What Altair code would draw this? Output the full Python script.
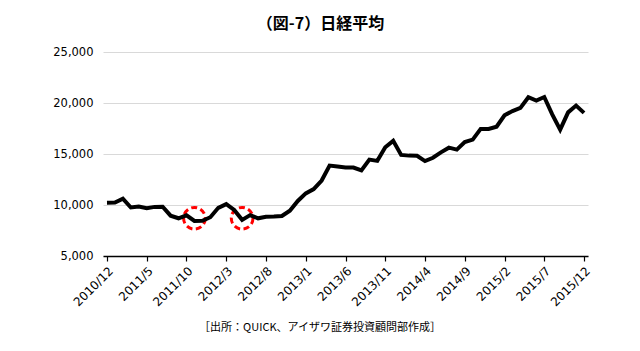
import altair as alt
import pandas as pd

months = [
    "2010/12", "2011/1", "2011/2", "2011/3", "2011/4", "2011/5", "2011/6", "2011/7", "2011/8", "2011/9",
    "2011/10", "2011/11", "2011/12", "2012/1", "2012/2", "2012/3", "2012/4", "2012/5", "2012/6", "2012/7",
    "2012/8", "2012/9", "2012/10", "2012/11", "2012/12", "2013/1", "2013/2", "2013/3", "2013/4", "2013/5",
    "2013/6", "2013/7", "2013/8", "2013/9", "2013/10", "2013/11", "2013/12", "2014/1", "2014/2", "2014/3",
    "2014/4", "2014/5", "2014/6", "2014/7", "2014/8", "2014/9", "2014/10", "2014/11", "2014/12", "2015/1",
    "2015/2", "2015/3", "2015/4", "2015/5", "2015/6", "2015/7", "2015/8", "2015/9", "2015/10", "2015/11",
    "2015/12",
]
nikkei = [
    10229, 10238, 10624, 9755, 9850, 9694, 9816, 9833, 8955, 8700,
    8988, 8435, 8455, 8803, 9723, 10084, 9521, 8543, 9007, 8695,
    8840, 8870, 8928, 9446, 10395, 11139, 11559, 12398, 13861, 13775,
    13677, 13668, 13389, 14456, 14328, 15662, 16291, 14915, 14841, 14828,
    14304, 14632, 15162, 15621, 15425, 16174, 16414, 17460, 17451, 17674,
    18798, 19207, 19520, 20563, 20236, 20585, 18890, 17388, 19083, 19747,
    19034,
]
highlight_months = ["2011/11", "2012/5"]
highlight_centers = [8700, 8700]
title_text = "（図-7）日経平均"
source_text = "［出所：QUICK、アイザワ証券投資顧問部作成］"

df = pd.DataFrame({"i": list(range(len(months))), "month": months, "value": nikkei})
hl = pd.DataFrame({
    "i": [months.index(m) for m in highlight_months],
    "value": highlight_centers,
})

tick_vals = list(range(0, len(months), 5))
label_expr = "{" + ",".join(f"'{i}':'{months[i]}'" for i in tick_vals) + "}[datum.value]"

font = "DejaVu Sans"

x_enc = alt.X(
    "i:Q",
    scale=alt.Scale(domain=[-0.5, len(months) - 0.5], nice=False, zero=False),
    axis=alt.Axis(
        values=tick_vals,
        labelExpr=label_expr,
        labelAngle=-45,
        labelAlign="right",
        labelBaseline="top",
        labelFont=font,
        labelFontSize=12,
        labelColor="#000000",
        labelPadding=4,
        labelOverlap=False,
        labelFlush=False,
        grid=False,
        domainColor="#000000",
        domainWidth=1.5,
        tickColor="#000000",
        tickSize=5,
        tickWidth=1.2,
        title=None,
    ),
)
y_enc = alt.Y(
    "value:Q",
    scale=alt.Scale(domain=[5000, 25000], nice=False, zero=False),
    axis=alt.Axis(
        values=[5000, 10000, 15000, 20000, 25000],
        format=",.0f",
        labelFont=font,
        labelFontSize=11.5,
        labelColor="#000000",
        labelPadding=10,
        domain=False,
        ticks=False,
        gridColor="#d9d9d9",
        gridWidth=1,
        title=None,
    ),
)

line = alt.Chart(df).mark_line(color="#000000", strokeWidth=4, strokeJoin="miter").encode(x=x_enc, y=y_enc)

circles = alt.Chart(hl).mark_point(
    shape="circle", size=470, filled=False, color="#ff0000", opacity=1,
    strokeWidth=3, strokeDash=[6, 3.5]
).encode(x=x_enc, y=y_enc)

source = alt.Chart(pd.DataFrame({"t": [source_text]})).mark_text(
    font="Noto Sans CJK JP", fontSize=11, color="#000000", align="center", baseline="middle"
).encode(text="t:N", x=alt.value(217), y=alt.value(276))

chart = (
    alt.layer(circles, line, source)
    .properties(
        width=485,
        height=204,
        padding={"left": 103, "top": 52, "right": 52, "bottom": 95},
        autosize=alt.AutoSizeParams(type="none"),
        title=alt.TitleParams(
            title_text,
            font="Noto Sans CJK JP",
            fontSize=16,
            fontWeight="bold",
            color="#000000",
            anchor="middle",
            frame="group",
            dx=-25,
            offset=14,
        ),
    )
    .configure_view(stroke=None)
)

chart.save("out.html", embed_options={"renderer": "svg", "actions": False})
